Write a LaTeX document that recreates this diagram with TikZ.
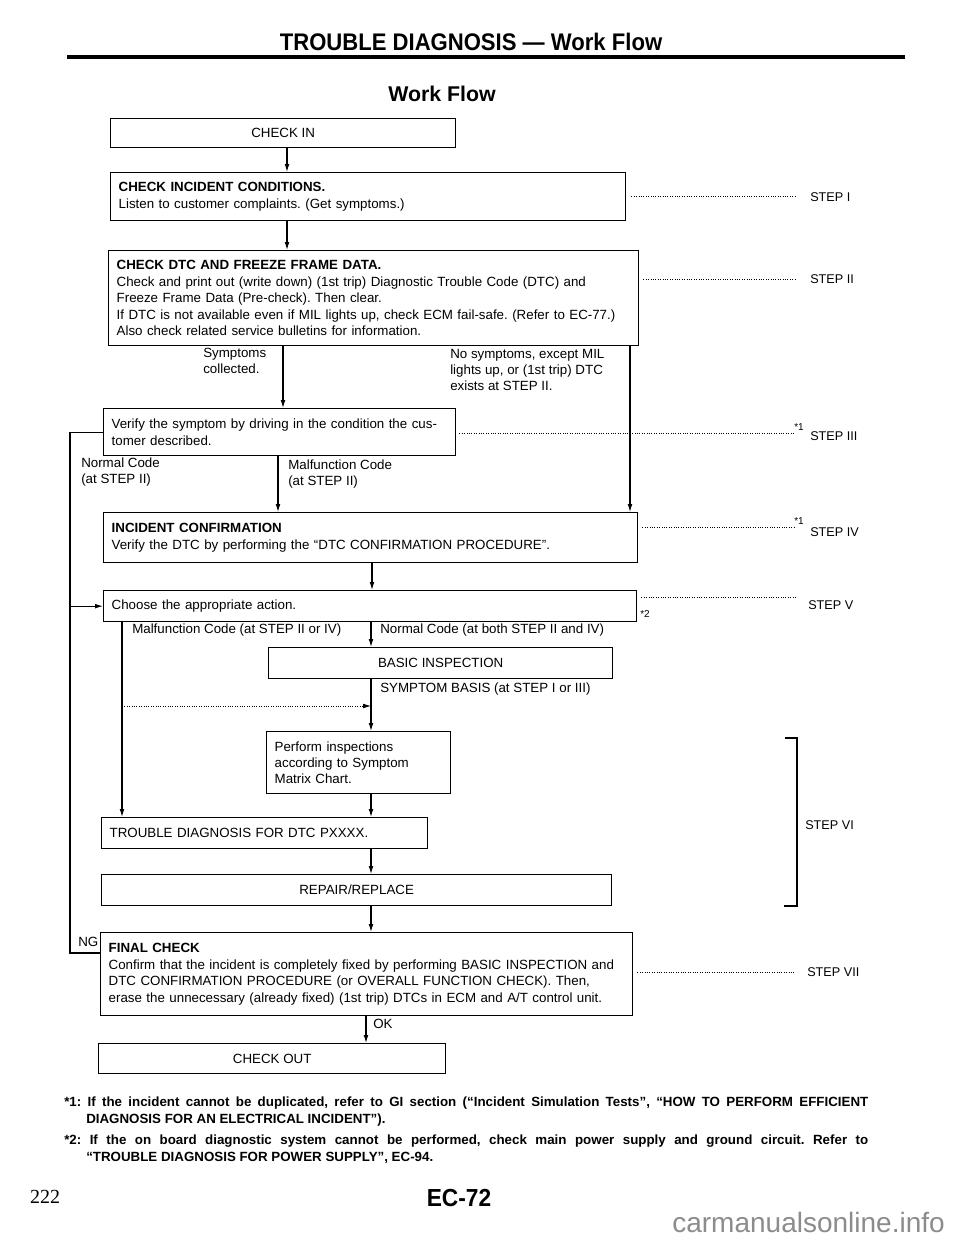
\documentclass[tikz,border=0pt]{standalone}
\usepackage{fontspec}
\setmainfont{Liberation Sans}
\newfontfamily\condfont[FakeStretch=0.84]{Liberation Sans}
\newfontfamily\headfont[FakeStretch=0.92]{Liberation Sans}
\newfontfamily\pagenofont{Liberation Serif}
\usetikzlibrary{arrows.meta,calc,positioning}
\frenchspacing

\begin{document}
\begin{tikzpicture}[x=0.75pt, y=-0.75pt,
  box/.style={draw, line width=1pt, anchor=north west, inner xsep=6pt, inner ysep=0pt,
    font=\fontsize{10}{12.3}\selectfont},
  wbox/.style 2 args={minimum width=#1*0.75pt, minimum height=#2*0.75pt},
  lbox/.style={box, align=left},
  cbox/.style={box, align=center},
  lbl/.style={anchor=west, align=left, inner sep=0pt, font=\fontsize{10}{12.3}\selectfont},
  steplbl/.style={anchor=west, inner sep=0pt, font=\fontsize{9.5}{11}\selectfont},
  fnmark/.style={inner sep=0pt, font=\fontsize{7.5}{8}\selectfont},
  arr/.style={-{Latex[length=6pt,width=3.6pt]}, line width=0.8pt},
  ln/.style={line width=0.8pt},
  dots/.style={line width=0.6pt, dash pattern=on 0.5pt off 1.3pt}
]
\fill[white] (0,0) rectangle (960,1242);
\useasboundingbox (0,0) rectangle (960,1242);

% page head
\node[font=\headfont\bfseries\fontsize{18}{20}\selectfont] (head) at (471,42) {TROUBLE DIAGNOSIS — Work Flow};
\draw[line width=3pt] (67,57) -- (905,57);
\node[font=\bfseries\fontsize{16}{18}\selectfont] (title) at (442,94) {Work Flow};

% boxes
\node[cbox, wbox={345}{29}] (checkin) at (110,118) {CHECK IN};
\node[lbox, wbox={515}{48}, text width=374.25pt] (incident) at (110,172)
  {\textbf{CHECK INCIDENT CONDITIONS.}\\Listen to customer complaints. (Get symptoms.)};
\node[lbox, wbox={530}{95}, text width=385.5pt] (dtc) at (108,250)
  {\textbf{CHECK DTC AND FREEZE FRAME DATA.}\\
   Check and print out (write down) (1st trip) Diagnostic Trouble Code (DTC) and\\
   Freeze Frame Data (Pre-check). Then clear.\\
   If DTC is not available even if MIL lights up, check ECM fail-safe. (Refer to EC-77.)\\
   Also check related service bulletins for information.};
\node[lbox, wbox={352}{47}, text width=252pt] (verify) at (103,408)
  {Verify the symptom by driving in the condition the cus-\\tomer described.};
\node[lbox, wbox={534}{50}, text width=388.5pt] (confirm) at (103,512)
  {\textbf{INCIDENT CONFIRMATION}\\Verify the DTC by performing the “DTC CONFIRMATION PROCEDURE”.};
\node[lbox, wbox={533}{31}, text width=387.75pt] (choose) at (103,590) {Choose the appropriate action.};
\node[cbox, wbox={344}{31}] (basic) at (268,647) {BASIC INSPECTION};
\node[lbox, wbox={184}{62}, text width=126pt] (perform) at (266,731)
  {Perform inspections\\according to Symptom\\Matrix Chart.};
\node[lbox, wbox={326}{31}, text width=232.5pt] (dtcdiag) at (101,817) {TROUBLE DIAGNOSIS FOR DTC PXXXX.};
\node[cbox, wbox={510}{31}] (repair) at (101,874) {REPAIR/REPLACE};
\node[lbox, wbox={532}{83}, text width=387pt] (final) at (100,932)
  {\textbf{FINAL CHECK}\\
   Confirm that the incident is completely fixed by performing BASIC INSPECTION and\\
   DTC CONFIRMATION PROCEDURE (or OVERALL FUNCTION CHECK). Then,\\
   erase the unnecessary (already fixed) (1st trip) DTCs in ECM and A/T control unit.};
\node[cbox, wbox={347}{30}] (checkout) at (98,1043) {CHECK OUT};

% lanes
\coordinate (la) at (287,0);
\coordinate (lsym) at (283,0);
\coordinate (lnosym) at (630,0);
\coordinate (lmal) at (278,0);
\coordinate (ll) at (70,0);
\coordinate (lc) at (372,0);
\coordinate (lm) at (122,0);
\coordinate (lb) at (371,0);
\coordinate (lo) at (366,0);
\coordinate (ng) at ($(final.north west)+(0,21)$);
\coordinate (sb) at (0,706);

\draw[arr] (checkin.south -| la) -- (incident.north -| la);
\draw[arr] (incident.south -| la) -- (dtc.north -| la);
\draw[arr] (dtc.south -| lsym) -- (verify.north -| lsym);
\draw[arr] (dtc.south -| lnosym) -- (confirm.north -| lnosym);
\draw[arr] (verify.south -| lmal) -- (confirm.north -| lmal);
\draw[ln] (verify.west) -- (verify.west -| ll) -- (ll |- ng) -- (ng);
\draw[arr] (choose.west -| ll) -- (choose.west);
\draw[arr] (confirm.south -| lc) -- (choose.north -| lc);
\draw[arr] (choose.south -| lm) -- (dtcdiag.north -| lm);
\draw[arr] (choose.south -| lb) -- (basic.north -| lb);
\draw[arr] (basic.south -| lb) -- (perform.north -| lb);
\draw[arr] (perform.south -| lb) -- (dtcdiag.north -| lb);
\draw[arr] (dtcdiag.south -| lb) -- (repair.north -| lb);
\draw[arr] (repair.south -| lb) -- (final.north -| lb);
\draw[arr] (final.south -| lo) -- (checkout.north -| lo);
\draw[dots, -{Latex[length=6pt,width=3.6pt]}] (sb -| lm) -- (sb -| lb);

% branch labels
\node[lbl] (symp) at (203,361) {Symptoms\\collected.};
\node[lbl] (nosymp) at (450,370) {No symptoms, except MIL\\lights up, or (1st trip) DTC\\exists at STEP II.};
\node[lbl] (normal2) at (81,472) {Normal Code\\(at STEP II)};
\node[lbl] (malf2) at (288,474) {Malfunction Code\\(at STEP II)};
\node[lbl] (malf4) at (132,630) {Malfunction Code (at STEP II or IV)};
\node[lbl] (normal4) at (380,630) {Normal Code (at both STEP II and IV)};
\node[lbl] (sbasis) at (380,689) {SYMPTOM BASIS (at STEP I or III)};
\node[lbl] (ok) at (373,1024) {OK};
\node[lbl] (nglbl) at (78,942) {NG};

% step leaders
\node[steplbl] (s1) at (810,197) {STEP I};
\node[steplbl] (s2) at (810,279) {STEP II};
\node[steplbl] (s3) at (810,436) {STEP III};
\node[steplbl] (s4) at (810,532) {STEP IV};
\node[steplbl] (s5) at (808,605) {STEP V};
\node[steplbl] (s6) at (805,825) {STEP VI};
\node[steplbl] (s7) at (807,972) {STEP VII};
\draw[dots] ($(incident.east |- s1.west)+(5,-1)$) -- ($(s1.west)+(-15,-1)$);
\draw[dots] ($(dtc.east |- s2.west)+(4,0)$) -- ($(s2.west)+(-15,0)$);
\draw[dots] ($(verify.east |- s3.west)+(3,-3)$) -- ($(s3.west)+(-15,-3)$);
\draw[dots] ($(confirm.east |- s4.west)+(4,-5)$) -- ($(s4.west)+(-15,-5)$);
\draw[dots] ($(choose.east |- s5.west)+(4,-8)$) -- ($(s5.west)+(-13,-8)$);
\draw[dots] ($(final.east |- s7.west)+(4,0)$) -- ($(s7.west)+(-12,0)$);
\node[fnmark] (m3) at (799,427) {*1};
\node[fnmark] (m4) at (799,521) {*1};
\node[fnmark, anchor=west] (m5) at (640,614) {*2};
\draw[ln] (785,738) -- (797,738) -- (797,906) -- (784,906);

% notes
\node[anchor=north west, inner sep=0pt, text width=603pt, align=justify,
  font=\bfseries\fontsize{10}{12.75}\selectfont] (notes) at (64,1097)
  {{\hangindent=16.5pt\hangafter=1 *1: If the incident cannot be duplicated, refer to GI section (“Incident Simulation Tests”, “HOW TO PERFORM EFFICIENT\linebreak DIAGNOSIS FOR AN ELECTRICAL INCIDENT”).\par}
   \vspace{3pt}
   {\hangindent=16.5pt\hangafter=1 *2: If the on board diagnostic system cannot be performed, check main power supply and ground circuit. Refer to\linebreak “TROUBLE DIAGNOSIS FOR POWER SUPPLY”, EC-94.\par}};

% page foot
\node[font=\pagenofont\fontsize{15}{17}\selectfont] (pageno) at (45,1197) {222};
\node[font=\headfont\bfseries\fontsize{18.5}{20}\selectfont] (pagecode) at (459,1198) {EC-72};
\node[anchor=east, inner sep=0pt, font=\fontsize{21}{24}\selectfont, text=black!45] (wm) at (945,1222) {carmanualsonline.info};
\end{tikzpicture}
\end{document}
